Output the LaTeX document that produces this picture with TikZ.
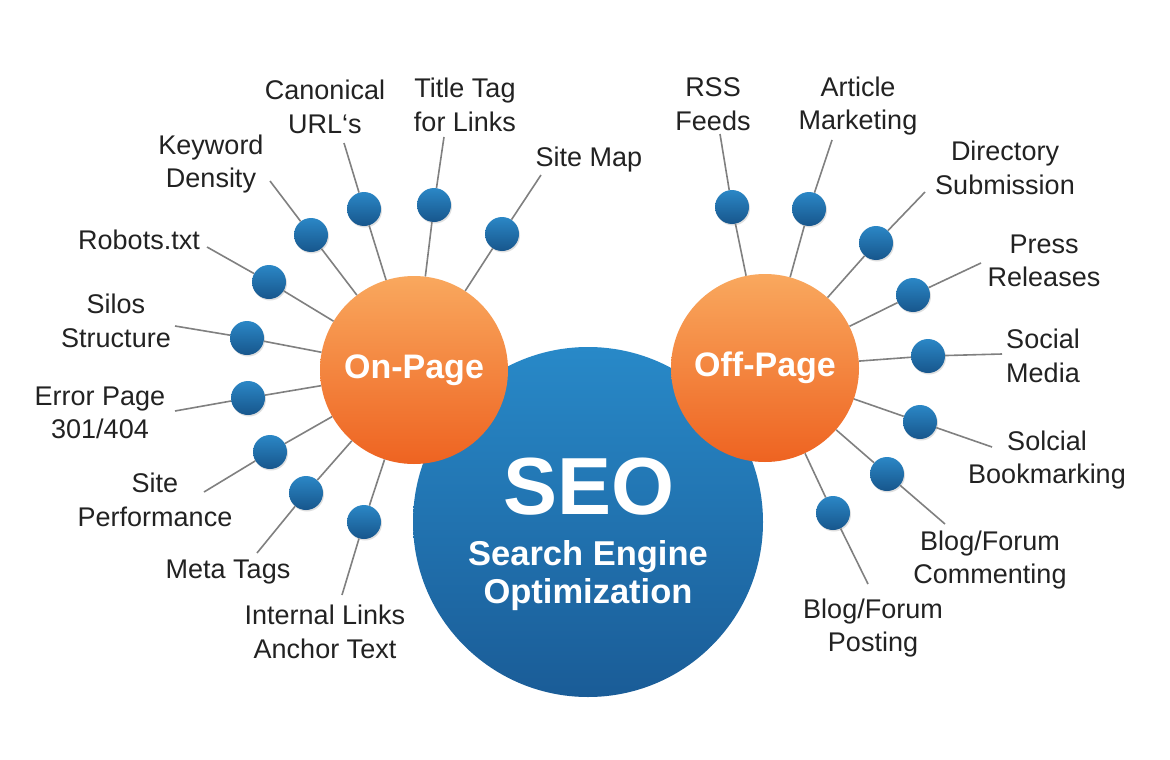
\documentclass[tikz,border=0pt]{standalone}
\usepackage{fontspec}
\setmainfont{Liberation Sans}
\usetikzlibrary{shadows}
\definecolor{lbl}{HTML}{222222}
\definecolor{ln}{HTML}{808080}
\definecolor{seotop}{HTML}{2889C8}
\definecolor{seobot}{HTML}{1A5C97}
\definecolor{ortop}{HTML}{F9A85E}
\definecolor{orbot}{HTML}{EE6321}
\definecolor{dottop}{HTML}{2B87C6}
\definecolor{dotbot}{HTML}{17568C}
\tikzset{
  seocircle/.style={circle, minimum size=350pt, inner sep=0pt, top color=seotop, bottom color=seobot, draw=none},
  pagecircle/.style={circle, minimum size=188pt, inner sep=0pt, top color=ortop, bottom color=orbot, draw=none, text=white, font=\fontsize{34}{38}\selectfont\bfseries},
  dot/.style={circle, minimum size=34pt, inner sep=0pt, top color=dottop, bottom color=dotbot, draw=none,
    drop shadow={opacity=0.25, shadow xshift=1pt, shadow yshift=-1.5pt}},
  lab/.style={align=center, text=lbl, inner sep=0pt, font=\fontsize{27}{33.5}\selectfont},
  conn/.style={draw=ln, line width=1.6pt},
}
\begin{document}
\begin{tikzpicture}[x=1pt,y=-1pt]
\useasboundingbox (0,0) rectangle (1170,760);
\fill[white] (0,0) rectangle (1170,760);

% central circle
\node[seocircle] (seo) at (588,522) {};
\node[text=white, font=\fontsize{81}{81}\selectfont\bfseries, inner sep=0pt] (seot) at (589,487) {SEO};
\node[text=white, font=\fontsize{34.5}{38}\selectfont\bfseries, align=center, inner sep=0pt] (seosub) at (588,576) {Search Engine\\Optimization};

% category circles
\node[pagecircle] (on) at (414,370) {On-Page};
\node[pagecircle] (off) at (765,368) {Off-Page};

% On-Page dots
\node[dot] (kw) at (311,235) {};
\node[dot] (can) at (364,209) {};
\node[dot] (tt) at (434,205) {};
\node[dot] (sm) at (502,234) {};
\node[dot] (rob) at (269,282) {};
\node[dot] (sil) at (247,338) {};
\node[dot] (err) at (248,398) {};
\node[dot] (perf) at (270,452) {};
\node[dot] (meta) at (306,493) {};
\node[dot] (int) at (364,522) {};

% Off-Page dots
\node[dot] (rss) at (732,207) {};
\node[dot] (art) at (809,209) {};
\node[dot] (dir) at (876,243) {};
\node[dot] (press) at (913,295) {};
\node[dot] (soc) at (928,356) {};
\node[dot] (book) at (920,422) {};
\node[dot] (comm) at (887,474) {};
\node[dot] (post) at (833,513) {};

% free ends
\coordinate (kwe) at (270,181);
\coordinate (cane) at (344,143);
\coordinate (tte) at (444,137);
\coordinate (sme) at (541,175);
\coordinate (robe) at (207,247);
\coordinate (sile) at (175,326);
\coordinate (erre) at (175,411);
\coordinate (perfe) at (204,492);
\coordinate (metae) at (257,553);
\coordinate (inte) at (342,595);
\coordinate (rsse) at (720,134);
\coordinate (arte) at (832,140);
\coordinate (dire) at (925,192);
\coordinate (presse) at (981,263);
\coordinate (soce) at (1002,354);
\coordinate (booke) at (992,447);
\coordinate (comme) at (945,524);
\coordinate (poste) at (868,584);

% connectors
\foreach \d in {kw,can,tt,sm,rob,sil,err,perf,meta,int}{
  \draw[conn] (on) -- (\d);
  \draw[conn] (\d) -- (\d e);
}
\foreach \d in {rss,art,dir,press,soc,book,comm,post}{
  \draw[conn] (off) -- (\d);
  \draw[conn] (\d) -- (\d e);
}

% labels
\node[lab] (kwl) at (211,164) {Keyword\\Density};
\node[lab] (canl) at (325,107) {Canonical\\URL‘s};
\node[lab] (ttl) at (465,105) {Title Tag\\for Links};
\node[lab] (sml) at (589,160) {Site Map};
\node[lab] (robl) at (139,240) {Robots.txt};
\node[lab] (sill) at (116,321) {Silos\\Structure};
\node[lab] (errl) at (100,413) {Error Page\\301/404};
\node[lab] (perfl) at (155,500) {Site\\Performance};
\node[lab] (metal) at (228,572) {Meta Tags};
\node[lab] (intl) at (325,632) {Internal Links\\Anchor Text};
\node[lab] (rssl) at (713,104) {RSS\\Feeds};
\node[lab] (artl) at (858,106) {Article\\Marketing};
\node[lab] (dirl) at (1005,168) {Directory\\Submission};
\node[lab] (pressl) at (1044,261) {Press\\Releases};
\node[lab] (socl) at (1043,356) {Social\\Media};
\node[lab] (bookl) at (1047,460) {Solcial\\Bookmarking};
\node[lab] (comml) at (990,560) {Blog/Forum\\Commenting};
\node[lab] (postl) at (873,628) {Blog/Forum\\Posting};
\end{tikzpicture}
\end{document}
